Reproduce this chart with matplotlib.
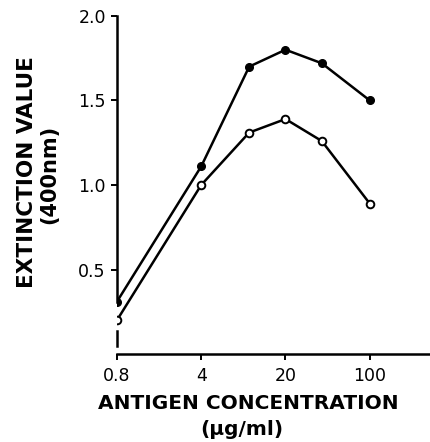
#!/usr/bin/env python3
import matplotlib
matplotlib.use("Agg")
import matplotlib.pyplot as plt

# antigen concentration (ug/ml) and extinction values
conc = [0.8, 4, 10, 20, 40, 100]
filled_vals = [0.31, 1.11, 1.70, 1.80, 1.72, 1.50]
open_vals = [0.20, 1.00, 1.31, 1.39, 1.26, 0.89]
xtick_vals = [0.8, 4, 20, 100]
xtick_labels = ["0.8", "4", "20", "100"]
ytick_vals = [0.5, 1.0, 1.5, 2.0]
ytick_labels = ["0.5", "1.0", "1.5", "2.0"]

plt.rcParams['font.family'] = ['DejaVu Sans']

fig = plt.figure(figsize=(4.30, 4.42), dpi=100)
ax = fig.add_axes([0.272, 0.199, 0.728, 0.765])

ax.plot(conc, filled_vals, color='black', lw=1.8, marker='o', ms=5.5,
        mfc='black', mec='black', zorder=3)
ax.plot(conc, open_vals, color='black', lw=1.8, marker='o', ms=5.5,
        mfc='white', mec='black', mew=1.4, zorder=3)

ax.set_xscale('log')
ax.set_xlim(0.8, 316)
ax.set_ylim(0.0, 2.0)
ax.minorticks_off()
ax.set_xticks(xtick_vals)
ax.set_xticklabels(xtick_labels)
ax.set_yticks(ytick_vals)
ax.set_yticklabels(ytick_labels)

# broken left axis: spine stops at the first point, little stub below
ax.spines['top'].set_visible(False)
ax.spines['right'].set_visible(False)
ax.spines['left'].set_bounds(filled_vals[0], 2.0)
ax.spines['left'].set_linewidth(1.8)
ax.spines['bottom'].set_linewidth(1.8)
ax.axvline(conc[0], ymin=0.024, ymax=0.068, color='black', lw=1.8, clip_on=False)

ax.tick_params(axis='both', direction='out', width=1.4, colors='black',
               labelsize=12.5)
ax.tick_params(axis='y', length=4, pad=4)
ax.tick_params(axis='x', length=4, pad=5)

fig.text(0.577, 0.087, "ANTIGEN CONCENTRATION", ha='center', va='center',
         fontsize=14.5, fontweight='bold')
fig.text(0.563, 0.029, "(\u00b5g/ml)", ha='center', va='center',
         fontsize=14.5, fontweight='bold')
fig.text(0.063, 0.61, "EXTINCTION VALUE", ha='center', va='center',
         rotation=90, fontsize=15.5, fontweight='bold')
fig.text(0.115, 0.605, "(400nm)", ha='center', va='center',
         rotation=90, fontsize=15, fontweight='bold')

fig.savefig("out.png", dpi=100)
